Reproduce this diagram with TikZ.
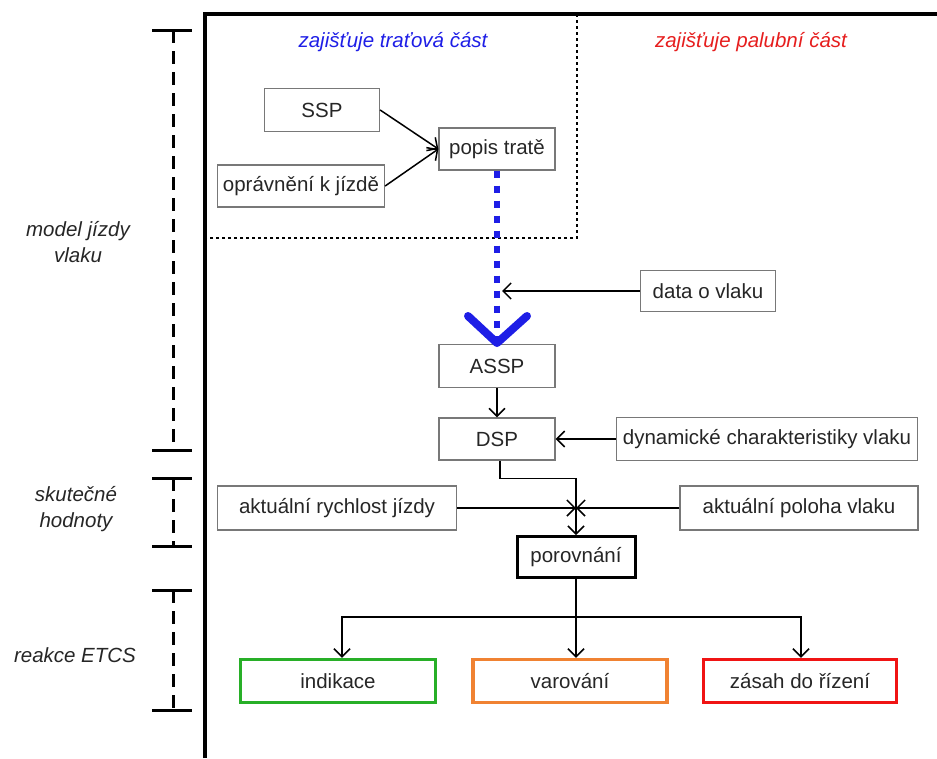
\documentclass[tikz,border=0pt]{standalone}
\usepackage{fontspec}
\setmainfont{Liberation Sans}
\usetikzlibrary{arrows.meta}
\definecolor{hblue}{RGB}{30,30,230}
\definecolor{hred}{RGB}{230,30,30}
\definecolor{bgreen}{RGB}{40,175,40}
\definecolor{borange}{RGB}{240,130,50}
\definecolor{bred}{RGB}{240,20,20}
\definecolor{bgray}{RGB}{120,120,120}
\tikzset{
  txt/.style={font=\fontsize{20.5}{24}\selectfont},
  itxt/.style={font=\fontsize{20.5}{26}\selectfont\itshape, align=center},
  box/.style={txt, draw=bgray, line width=1.3pt, rectangle, inner sep=0pt, text=black!85},
  cbox/.style={txt, line width=3.5pt, rectangle, inner sep=0pt, text=black!85},
  arr/.style={line width=1.5pt, -{Straight Barb[length=8pt,width=16pt,line width=1.5pt]}},
  conn/.style={line width=1.5pt},
}
\begin{document}
\begin{tikzpicture}[x=1pt,y=-1pt]
\useasboundingbox (0,0) rectangle (937,758);
% frame
\draw[line width=3.5pt] (205,758) -- (205,14) -- (937,14);
\draw[line width=1.5pt, dash pattern=on 3pt off 3pt] (577,14) -- (577,238) -- (205,238);
% headers
\node[itxt, text=hblue] (hdrA) at (393,42) {zajišťuje traťová část};
\node[itxt, text=hred] (hdrB) at (751,42) {zajišťuje palubní část};
% boxes
\node[box, minimum width=115, minimum height=43] (ssp) at (322,110) {SSP};
\node[box, minimum width=167, minimum height=42] (opr) at (301,186) {oprávnění k jízdě};
\node[box, minimum width=116, minimum height=42] (popis) at (497,149) {popis tratě};
\node[box, minimum width=135, minimum height=41] (data) at (708,291) {data o vlaku};
\node[box, minimum width=116, minimum height=43] (assp) at (497,366) {ASSP};
\node[box, minimum width=116, minimum height=42] (dsp) at (497,439) {DSP};
\node[box, minimum width=301, minimum height=43] (dyn) at (767,439) {dynamické charakteristiky vlaku};
\node[box, minimum width=239, minimum height=44] (rych) at (337,508) {aktuální rychlost jízdy};
\node[box, minimum width=238, minimum height=44] (pol) at (799,508) {aktuální poloha vlaku};
\node[cbox, draw=black, line width=3pt, minimum width=118, minimum height=41] (por) at (576,557) {porovnání};
\node[cbox, draw=bgreen, minimum width=195, minimum height=43] (ind) at (338,681) {indikace};
\node[cbox, draw=borange, minimum width=194, minimum height=43] (var) at (570,681) {varování};
\node[cbox, draw=bred, minimum width=193, minimum height=43] (zas) at (800,681) {zásah do řízení};
% connectors
\draw[arr] (ssp.east) -- (popis.west);
\draw[arr] (opr.east) -- (popis.west);
\coordinate (vtip) at (497,343);
\coordinate (vl) at (468,316);
\coordinate (vr) at (527,316);
\draw[hblue, line width=6.5pt, dash pattern=on 7pt off 8pt] (popis.south) -- (vtip);
\draw[hblue, line width=8pt, line cap=round, line join=round] (vl) -- (vtip) -- (vr);
\coordinate (dj) at (popis.south |- data.west);
\draw[arr, shorten >=5pt] (data.west) -- (dj);
\draw[arr] (assp.south) -- (dsp.north);
\draw[arr] (dyn.west) -- (dsp.east);
\draw[arr] ([xshift=3]dsp.south) -- ++(0,18) -| (por.north);
\draw[arr] (rych.east) -- (rych.east -| por.north);
\draw[arr] (pol.west) -- (pol.west -| por.north);
\coordinate (split) at (por.south |- 0,617);
\draw[arr] (por.south) -- (por.south |- var.north);
\draw[arr] (split) -| ([xshift=4]ind.north);
\draw[arr] (split) -| ([xshift=1]zas.north);
% left scale
\foreach \y in {30,450,478,546,590,710} \draw[line width=3pt] (152,\y) -- (192,\y);
\draw[line width=3pt, dash pattern=on 13pt off 8pt] (173,30) -- (173,450);
\draw[line width=3pt, dash pattern=on 13pt off 8pt] (173,478) -- (173,546);
\draw[line width=3pt, dash pattern=on 13pt off 8pt] (173,590) -- (173,710);
\node[itxt, text=black!85] (lab1) at (78,242) {model jízdy\\vlaku};
\node[itxt, text=black!85] (lab2) at (76,509) {skutečné\\hodnoty};
\node[itxt, text=black!85] (lab3) at (75,655) {reakce ETCS};
\end{tikzpicture}
\end{document}
